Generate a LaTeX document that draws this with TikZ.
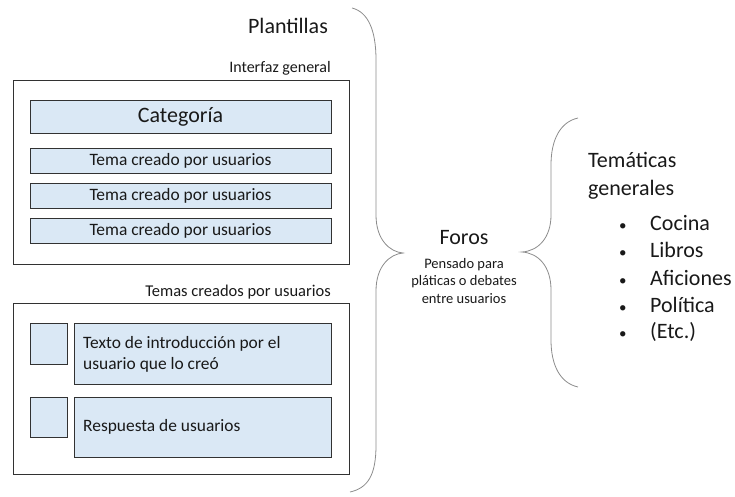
\documentclass[tikz,border=0pt]{standalone}
\usepackage{fontspec}
\setmainfont{Carlito}
\definecolor{boxfill}{RGB}{218,232,245}
\definecolor{boxline}{RGB}{50,50,50}
\definecolor{bracecol}{RGB}{140,140,140}
\definecolor{txt}{RGB}{25,25,25}
\begin{document}
\begin{tikzpicture}[x=1pt,y=-1pt,
  outerbox/.style={draw=boxline,line width=0.9pt,fill=white,inner sep=0pt},
  bluebox/.style={draw=boxline,line width=0.9pt,fill=boxfill,inner sep=0pt,text=txt},
  bracepath/.style={draw=bracecol,line width=0.8pt},
  bigtxt/.style={font=\fontsize{22}{28}\selectfont,text=txt,inner sep=0pt},
  medtxt/.style={font=\fontsize{16.5}{21}\selectfont,text=txt,inner sep=0pt},
  boxtxt/.style={font=\fontsize{17.4}{21}\selectfont,text=txt,inner sep=0pt},
  smalltxt/.style={font=\fontsize{14.5}{17.5}\selectfont,text=txt,inner sep=0pt}]
\useasboundingbox (0,0) rectangle (735,497);
% Plantillas
\node[bigtxt] (plant) at (288,26) {Plantillas};
% Interfaz general
\node[medtxt,anchor=east,font=\fontsize{16}{20}\selectfont] (ig) at (331,68) {Interfaz general};
\node[outerbox,minimum width=336pt,minimum height=184pt] (ob1) at (181,172) {};
\node[bluebox,minimum width=301pt,minimum height=33pt,font=\fontsize{22}{26}\selectfont] (cat) at (180.5,116.5) {Categoría};
\node[bluebox,boxtxt,minimum width=301pt,minimum height=25pt] (t1) at (180.5,161) {Tema creado por usuarios};
\node[bluebox,boxtxt,minimum width=301pt,minimum height=25pt] (t2) at (180.5,195.5) {Tema creado por usuarios};
\node[bluebox,boxtxt,minimum width=301pt,minimum height=25pt] (t3) at (180.5,230.5) {Tema creado por usuarios};
% Temas creados por usuarios
\node[medtxt,anchor=east] (tc) at (331,292) {Temas creados por usuarios};
\node[outerbox,minimum width=336pt,minimum height=171pt] (ob2) at (181,388.5) {};
\node[bluebox,minimum width=37pt,minimum height=41pt] (s1) at (48.5,343.5) {};
\node[bluebox,minimum width=257pt,minimum height=61pt] (b1) at (202.5,353.5) {};
\node[bluebox,minimum width=37pt,minimum height=40pt] (s2) at (48.5,417) {};
\node[bluebox,minimum width=257pt,minimum height=60pt] (b2) at (202.5,427) {};
\node[boxtxt,anchor=west,align=left] (b1t) at (83,354) {Texto de introducción por el\\usuario que lo creó};
\node[boxtxt,anchor=west] (b2t) at (83,427) {Respuesta de usuarios};
% left brace
\coordinate (lbtop) at (352,8);
\coordinate (lbtip) at (403,253);
\coordinate (lbbot) at (350,492);
\draw[bracepath] (lbtop) .. controls (368,12) and (376,30) .. (376,60) -- (376,215)
  .. controls (376,240) and (390,252) .. (lbtip)
  .. controls (390,254) and (376,266) .. (376,291) -- (376,445)
  .. controls (376,475) and (368,488) .. (lbbot);
% Foros
\node[bigtxt] (foros) at (464,238) {Foros};
\node[smalltxt,align=center,anchor=north] (forosd) at (464,258) {Pensado para\\pláticas o debates\\entre usuarios};
% right brace
\coordinate (rbtop) at (578,118);
\coordinate (rbtip) at (522,252);
\coordinate (rbbot) at (578,387);
\draw[bracepath] (rbtop) .. controls (560,122) and (551,140) .. (551,165) -- (551,215)
  .. controls (551,238) and (538,251) .. (rbtip)
  .. controls (538,253) and (551,266) .. (551,290) -- (551,340)
  .. controls (551,365) and (560,383) .. (rbbot);
% Tematicas
\node[bigtxt,anchor=west,align=left] (tem) at (588,176) {Temáticas\\generales};
\node[bigtxt,anchor=west] (i1) at (619,223) {\makebox[31pt][l]{\fontsize{15}{15}\selectfont •}Cocina};
\node[bigtxt,anchor=west] (i2) at (619,250) {\makebox[31pt][l]{\fontsize{15}{15}\selectfont •}Libros};
\node[bigtxt,anchor=west] (i3) at (619,278) {\makebox[31pt][l]{\fontsize{15}{15}\selectfont •}Aficiones};
\node[bigtxt,anchor=west] (i4) at (619,305) {\makebox[31pt][l]{\fontsize{15}{15}\selectfont •}Política};
\node[bigtxt,anchor=west] (i5) at (619,332) {\makebox[31pt][l]{\fontsize{15}{15}\selectfont •}(Etc.)};
\end{tikzpicture}
\end{document}
